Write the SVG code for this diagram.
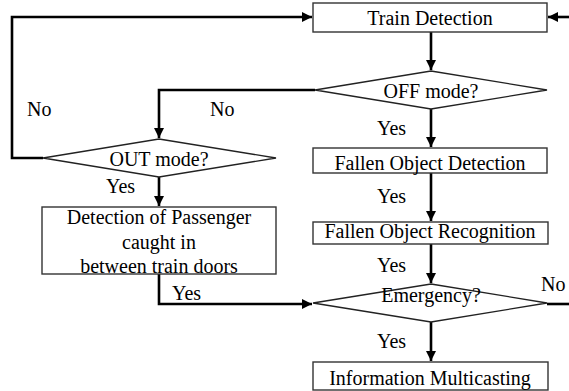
<svg xmlns="http://www.w3.org/2000/svg" width="569" height="391" viewBox="0 0 569 391" font-family="'Liberation Serif', 'Times New Roman', Tinos, 'DejaVu Serif', serif">
<defs>
<marker id="ah" viewBox="0 0 10 10" refX="10" refY="5" markerWidth="4" markerHeight="4" markerUnits="strokeWidth" orient="auto">
<path d="M0,0 L10,5 L0,10 Z" fill="#000"/>
</marker>
<style>
.box{fill:#fff;stroke:#333;stroke-width:1.4}
.dia{fill:#fff;stroke:#222;stroke-width:1.3}
.t{font-size:20px;fill:#000;text-anchor:middle}
.l{font-size:20px;fill:#000}
.c{fill:none;stroke:#000;stroke-width:2.6}
</style>
</defs>
<rect width="569" height="391" fill="#fff"/>
<g id="connectors">
<path class="c" d="M43,158 H12 V17 H312" marker-end="url(#ah)"/>
<path class="c" d="M569,17 H548" marker-end="url(#ah)"/>
<path class="c" d="M431,32 V70" marker-end="url(#ah)"/>
<path class="c" d="M315,90 H159 V138" marker-end="url(#ah)"/>
<path class="c" d="M431,109 V147" marker-end="url(#ah)"/>
<path class="c" d="M159,177 V206" marker-end="url(#ah)"/>
<path class="c" d="M431,173 V221" marker-end="url(#ah)"/>
<path class="c" d="M431,244 V283" marker-end="url(#ah)"/>
<path class="c" d="M159,274 V304 H312" marker-end="url(#ah)"/>
<path class="c" d="M547,304 H569"/>
<path class="c" d="M431,322 V361" marker-end="url(#ah)"/>
<text class="l" x="27" y="116">No</text>
<text class="l" x="210" y="116">No</text>
<text class="l" x="377" y="135">Yes</text>
<text class="l" x="106" y="193">Yes</text>
<text class="l" x="377" y="203">Yes</text>
<text class="l" x="377" y="272">Yes</text>
<text class="l" x="172" y="300">Yes</text>
<text class="l" x="541" y="291">No</text>
<text class="l" x="377" y="348">Yes</text>
</g>
<g id="train-detection">
<rect class="box" x="313" y="3" width="234" height="29"/>
<text class="t" x="430" y="25">Train Detection</text>
</g>
<g id="off-mode">
<polygon class="dia" points="431,71 547,90 431,109 315,90"/>
<text class="t" x="431" y="98">OFF mode?</text>
</g>
<g id="out-mode">
<polygon class="dia" points="159,139 276,158 159,177 43,158"/>
<text class="t" x="159" y="166">OUT mode?</text>
</g>
<g id="fallen-detection">
<rect class="box" x="313" y="148" width="234" height="25"/>
<text class="t" x="430" y="170">Fallen Object Detection</text>
</g>
<g id="passenger-detection">
<rect class="box" x="42" y="207" width="234" height="67"/>
<text class="t" x="159" y="224">Detection of Passenger</text>
<text class="t" x="159" y="249">caught in</text>
<text class="t" x="159" y="273">between train doors</text>
</g>
<g id="fallen-recognition">
<rect class="box" x="313" y="222" width="235" height="22"/>
<text class="t" x="430" y="238">Fallen Object Recognition</text>
</g>
<g id="emergency">
<polygon class="dia" points="431,284 547,303 431,322 313,303"/>
<text class="t" x="431" y="302">Emergency?</text>
</g>
<g id="info-multicasting">
<rect class="box" x="313" y="362" width="235" height="28"/>
<text class="t" x="430" y="385">Information Multicasting</text>
</g>
</svg>
